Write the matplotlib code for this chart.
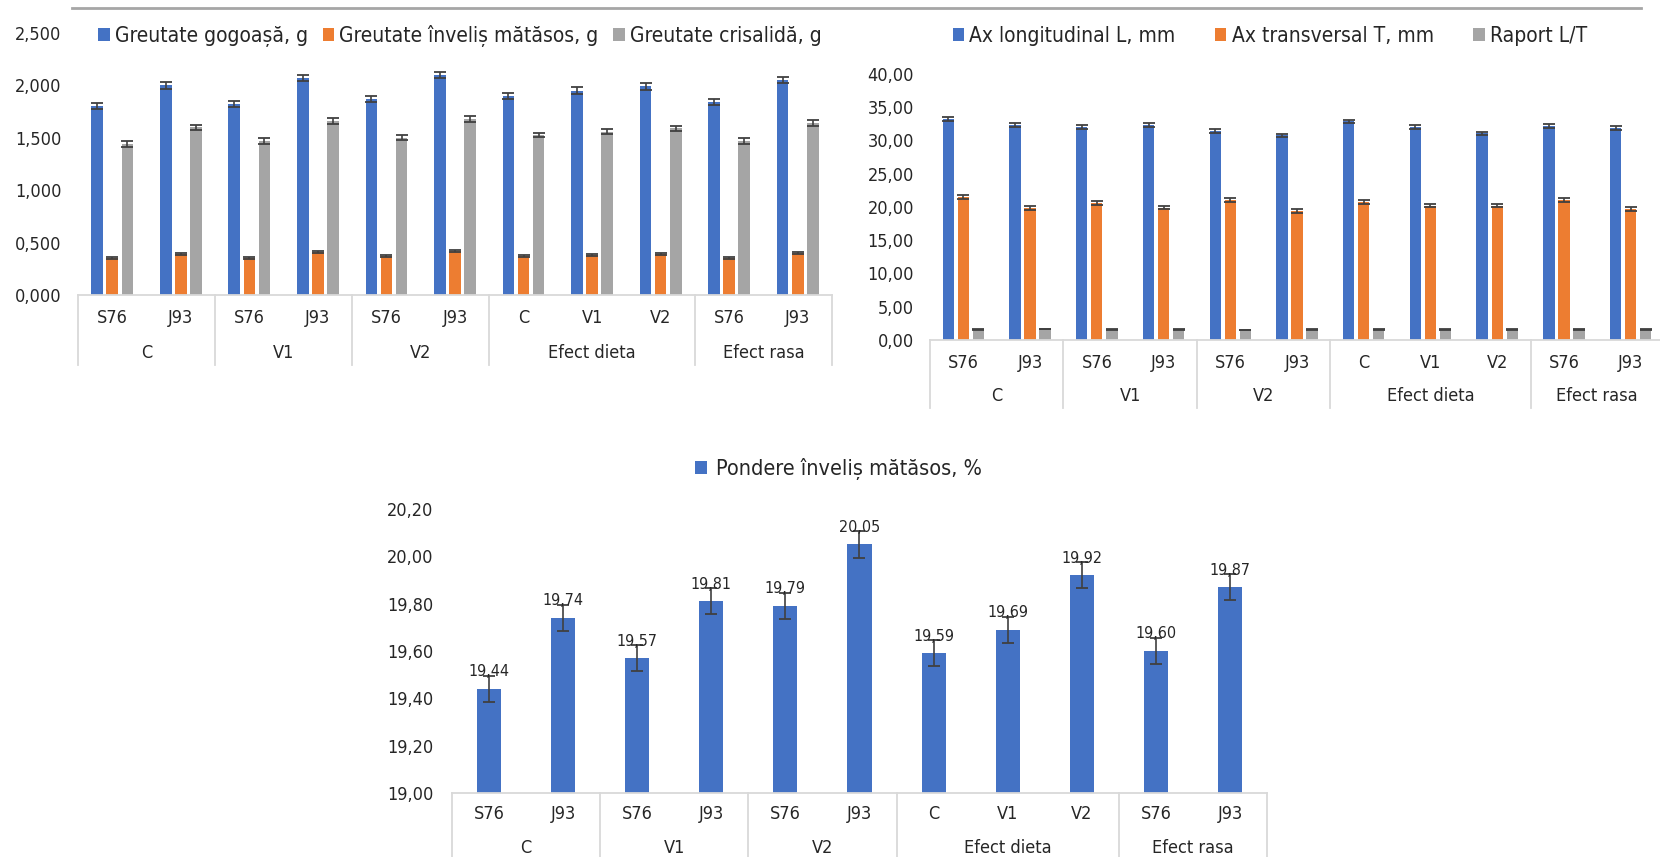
import matplotlib
matplotlib.use("Agg")
import matplotlib.pyplot as plt
import matplotlib.transforms as mtransforms
from matplotlib.lines import Line2D
import numpy as np

plt.rcParams['font.family'] = ['DejaVu Sans']
plt.rcParams['font.stretch'] = 'condensed'

# categories (two level axis)
cats = ["S76", "J93", "S76", "J93", "S76", "J93", "C", "V1", "V2", "S76", "J93"]
groups = ["C", "V1", "V2", "Efect dieta", "Efect rasa"]
group_sizes = [2, 2, 2, 3, 2]

# chart 1 - weights, g
gogoasa = [1.80, 2.00, 1.82, 2.07, 1.87, 2.10, 1.90, 1.95, 1.99, 1.84, 2.05]
gogoasa_err = [0.03, 0.03, 0.03, 0.03, 0.03, 0.03, 0.03, 0.03, 0.03, 0.03, 0.03]
invelis = [0.35, 0.39, 0.35, 0.41, 0.37, 0.42, 0.37, 0.38, 0.39, 0.35, 0.40]
invelis_err = [0.01, 0.01, 0.01, 0.01, 0.01, 0.01, 0.01, 0.01, 0.01, 0.01, 0.01]
crisalida = [1.44, 1.60, 1.47, 1.66, 1.50, 1.68, 1.53, 1.56, 1.59, 1.47, 1.64]
crisalida_err = [0.03, 0.025, 0.025, 0.025, 0.025, 0.025, 0.02, 0.025, 0.025, 0.025, 0.03]

# chart 2 - dimensions, mm
ax_long = [33.2, 32.4, 32.0, 32.3, 31.4, 30.8, 32.9, 32.1, 31.1, 32.2, 31.9]
ax_long_err = [0.3, 0.3, 0.3, 0.3, 0.3, 0.25, 0.25, 0.3, 0.25, 0.25, 0.3]
ax_trans = [21.5, 19.8, 20.6, 19.9, 21.0, 19.4, 20.7, 20.2, 20.2, 21.0, 19.7]
ax_trans_err = [0.25, 0.3, 0.25, 0.25, 0.3, 0.3, 0.3, 0.25, 0.25, 0.3, 0.25]
raport = [1.55, 1.65, 1.56, 1.62, 1.50, 1.59, 1.59, 1.59, 1.54, 1.53, 1.62]
raport_err = [0.05, 0.05, 0.05, 0.05, 0.05, 0.05, 0.05, 0.05, 0.05, 0.05, 0.05]

# chart 3 - silk shell share, %
pondere = [19.44, 19.74, 19.57, 19.81, 19.79, 20.05, 19.59, 19.69, 19.92, 19.60, 19.87]
pondere_err = [0.055, 0.055, 0.055, 0.055, 0.055, 0.055, 0.055, 0.055, 0.055, 0.055, 0.055]

BLUE = "#4472C4"
ORANGE = "#ED7D31"
GRAY = "#A5A5A5"
ERRC = "#404040"
AXC = "#D9D9D9"
TXT = "#262626"

fig = plt.figure(figsize=(16.6, 8.57), dpi=100)


def fmt(dec):
    return lambda v, p: ("{:.%df}" % dec).format(v).replace(".", ",")


def two_level_axis(ax, cat_off, grp_off, line_off, fs):
    x = np.arange(len(cats))
    ax.set_xticks(x)
    ax.set_xticklabels([])
    ax.tick_params(axis='x', length=0)
    ax.set_xlim(-0.5, len(cats) - 0.5)
    base = ax.get_xaxis_transform()
    tr_cat = mtransforms.offset_copy(base, fig=fig, y=-cat_off, units='dots')
    tr_grp = mtransforms.offset_copy(base, fig=fig, y=-grp_off, units='dots')
    tr_end = mtransforms.offset_copy(base, fig=fig, y=-line_off, units='dots')
    for xi, c in zip(x, cats):
        ax.text(xi, 0, c, transform=tr_cat, ha='center', va='center', fontsize=fs, color=TXT)
    start = -0.5
    bounds = [start]
    for g, n in zip(groups, group_sizes):
        ax.text(start + n / 2, 0, g, transform=tr_grp, ha='center', va='center',
                fontsize=fs, color=TXT)
        start += n
        bounds.append(start)
    # separators from the axis line down through both label rows
    for b in bounds:
        top = base.transform((b, 0))
        bot = tr_end.transform((b, 0))
        ax.add_line(Line2D([top[0], bot[0]], [top[1], bot[1]], transform=None,
                           color=AXC, lw=1.3, clip_on=False))


def style(ax, dec, fs, pad):
    for s in ['top', 'right', 'left']:
        ax.spines[s].set_visible(False)
    ax.spines['bottom'].set_color(AXC)
    ax.spines['bottom'].set_linewidth(1.3)
    ax.yaxis.set_major_formatter(plt.FuncFormatter(fmt(dec)))
    ax.tick_params(axis='y', length=0, labelsize=fs, labelcolor=TXT, pad=pad)
    ax.patch.set_alpha(0)


ekw = dict(ecolor=ERRC, elinewidth=1.2, capsize=4, capthick=1.3)
x = np.arange(len(cats))

# ---- chart 1
ax1 = fig.add_axes([0.04699, 0.65578, 0.45422, 0.30572])
w, d = 0.17, 0.22
ax1.bar(x - d, gogoasa, w, yerr=gogoasa_err, color=BLUE, label="Greutate gogoașă, g", error_kw=ekw)
ax1.bar(x, invelis, w, yerr=invelis_err, color=ORANGE, label="Greutate înveliș mătăsos, g", error_kw=ekw)
ax1.bar(x + d, crisalida, w, yerr=crisalida_err, color=GRAY, label="Greutate crisalidă, g", error_kw=ekw)
ax1.set_ylim(0, 2.5)
ax1.set_yticks(np.arange(0, 2.51, 0.5))
style(ax1, 3, 13, 12)
two_level_axis(ax1, 23, 58, 70, 13)
fig.legend(*ax1.get_legend_handles_labels(), loc='center', bbox_to_anchor=(0.277, 0.958), ncol=3,
           frameon=False, fontsize=15, handlelength=0.55, handleheight=0.55, handletextpad=0.25,
           columnspacing=0.7, labelcolor=TXT)

# ---- chart 2
ax2 = fig.add_axes([0.56024, 0.60327, 0.44217, 0.31039])
w, d = 0.17, 0.225
ax2.bar(x - d, ax_long, w, yerr=ax_long_err, color=BLUE, label="Ax longitudinal L, mm", error_kw=ekw)
ax2.bar(x, ax_trans, w, yerr=ax_trans_err, color=ORANGE, label="Ax transversal T, mm", error_kw=ekw)
ax2.bar(x + d, raport, w, yerr=raport_err, color=GRAY, label="Raport L/T", error_kw=ekw)
ax2.set_ylim(0, 40)
ax2.set_yticks(np.arange(0, 40.1, 5))
style(ax2, 2, 13, 11.5)
two_level_axis(ax2, 23, 56, 68, 13)
fig.legend(*ax2.get_legend_handles_labels(), loc='center', bbox_to_anchor=(0.765, 0.958), ncol=3,
           frameon=False, fontsize=15, handlelength=0.55, handleheight=0.55, handletextpad=0.25,
           columnspacing=1.9, labelcolor=TXT)

# ---- chart 3
ax3 = fig.add_axes([0.27229, 0.07468, 0.49096, 0.33139])
ax3.bar(x, pondere, 0.325, yerr=pondere_err, color=BLUE, label="Pondere înveliș mătăsos, %",
        error_kw=ekw)
ax3.set_ylim(19.0, 20.2)
ax3.set_yticks(np.arange(19.0, 20.21, 0.2))
style(ax3, 2, 13, 13.5)
two_level_axis(ax3, 21, 55, 66, 13)
for xi, v in zip(x, pondere):
    ax3.text(xi, v + 0.072, ("%.2f" % v).replace(".", ","), ha='center', va='center',
             fontsize=11.5, color=TXT)
fig.legend(*ax3.get_legend_handles_labels(), loc='center', bbox_to_anchor=(0.505, 0.453), ncol=1,
           frameon=False, fontsize=15.5, handlelength=0.55, handleheight=0.55, handletextpad=0.4,
           labelcolor=TXT)

# top rule
fig.add_artist(Line2D([72 / 1660, 1641 / 1660], [1 - 8 / 857, 1 - 8 / 857], color="#A6A6A6", lw=2))

plt.savefig("out.png", dpi=100)
